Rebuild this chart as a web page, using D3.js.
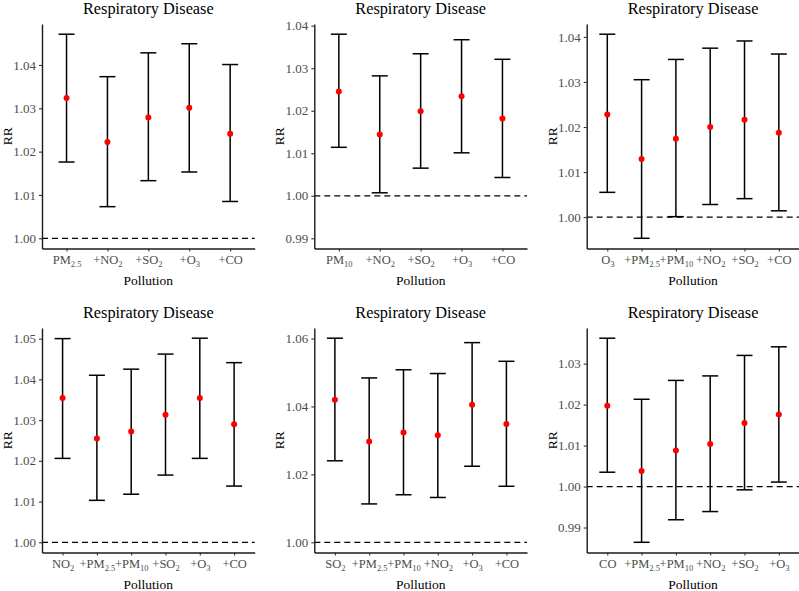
<!DOCTYPE html>
<html>
<head>
<meta charset="utf-8">
<script src="https://cdn.jsdelivr.net/npm/d3@7"></script>
<style>
	body { margin: 0; background: #fff; }
	svg text { font-family: "Liberation Serif", Tinos, "Times New Roman", Times, "DejaVu Serif", serif; }
</style>
</head>
<body>
<svg width="799" height="591"></svg>
<script>
const title = 'Respiratory Disease';
const xTitle = 'Pollution';
const yTitle = 'RR';

// labels use _{..} for subscripts
const p1Labels = ['PM_{2.5}', '+NO_{2}', '+SO_{2}', '+O_{3}', '+CO'];
const p1Est = [1.0324, 1.0222, 1.0279, 1.0301, 1.0241];
const p1Lo = [1.0176, 1.0073, 1.0133, 1.0153, 1.0085];
const p1Hi = [1.0471, 1.0373, 1.0428, 1.0449, 1.0401];

const p2Labels = ['PM_{10}', '+NO_{2}', '+SO_{2}', '+O_{3}', '+CO'];
const p2Est = [1.0245, 1.0144, 1.0199, 1.0234, 1.0182];
const p2Lo = [1.0114, 1.0007, 1.0065, 1.0101, 1.0043];
const p2Hi = [1.0380, 1.0282, 1.0334, 1.0367, 1.0321];

const p3Labels = ['O_{3}', '+PM_{2.5}', '+PM_{10}', '+NO_{2}', '+SO_{2}', '+CO'];
const p3Est = [1.0228, 1.0129, 1.0174, 1.0200, 1.0216, 1.0187];
const p3Lo = [1.0055, 0.9953, 1.0001, 1.0028, 1.0041, 1.0014];
const p3Hi = [1.0406, 1.0305, 1.0350, 1.0375, 1.0391, 1.0362];

const p4Labels = ['NO_{2}', '+PM_{2.5}', '+PM_{10}', '+SO_{2}', '+O_{3}', '+CO'];
const p4Est = [1.0354, 1.0255, 1.0272, 1.0313, 1.0354, 1.0290];
const p4Lo = [1.0206, 1.0103, 1.0118, 1.0165, 1.0206, 1.0138];
const p4Hi = [1.0500, 1.0410, 1.0425, 1.0462, 1.0501, 1.0441];

const p5Labels = ['SO_{2}', '+PM_{2.5}', '+PM_{10}', '+NO_{2}', '+O_{3}', '+CO'];
const p5Est = [1.0420, 1.0297, 1.0323, 1.0315, 1.0405, 1.0348];
const p5Lo = [1.0240, 1.0113, 1.0140, 1.0132, 1.0224, 1.0165];
const p5Hi = [1.0601, 1.0484, 1.0508, 1.0497, 1.0588, 1.0533];

const p6Labels = ['CO', '+PM_{2.5}', '+PM_{10}', '+NO_{2}', '+SO_{2}', '+O_{3}'];
const p6Est = [1.0197, 1.0038, 1.0088, 1.0104, 1.0155, 1.0176];
const p6Lo = [1.0035, 0.9864, 0.9919, 0.9939, 0.9992, 1.0011];
const p6Hi = [1.0362, 1.0213, 1.0259, 1.0270, 1.0320, 1.0341];

const yTicks = [
	[1.00, 1.01, 1.02, 1.03, 1.04],
	[0.99, 1.00, 1.01, 1.02, 1.03, 1.04],
	[1.00, 1.01, 1.02, 1.03, 1.04],
	[1.00, 1.01, 1.02, 1.03, 1.04, 1.05],
	[1.00, 1.02, 1.04, 1.06],
	[0.99, 1.00, 1.01, 1.02, 1.03]
];
// lowest value the y scale must show (reference line, or a forced limit)
const yFloor = [1.00, 0.99, 1.00, 1.00, 1.00, 1.00];
const refLine = 1.00;

const panels = [
	[p1Labels, p1Est, p1Lo, p1Hi],
	[p2Labels, p2Est, p2Lo, p2Hi],
	[p3Labels, p3Est, p3Lo, p3Hi],
	[p4Labels, p4Est, p4Lo, p4Hi],
	[p5Labels, p5Est, p5Lo, p5Hi],
	[p6Labels, p6Est, p6Lo, p6Hi]
];

const colLeft = [42, 314.3, 586.7];
const rowTop = [24, 328];
const plotW = 212.7;
const plotH = 224.5;
const serif = '"Liberation Serif", Tinos, "Times New Roman", Times, "DejaVu Serif", serif';

const svg = d3.select('svg');

// write a label with _{..} parts as subscripts
function richText(sel, s){
	sel.text(null);
	var parts = s.split(/_\{(.*?)\}/);
	parts.forEach(function(p, i){
		if(!p) return;
		if(i%2==1){
			sel.append('tspan').attr('font-size', '8.5px').attr('dy', 3).text(p);
		} else {
			var t = sel.append('tspan').text(p);
			if(i>0) t.attr('dy', -3);
		}
	});
}

function drawPanel(k){
	var [labels, est, lo, hi] = panels[k];
	var left = colLeft[k%3];
	var top = rowTop[Math.floor(k/3)];
	var g = svg.append('g').attr('transform', `translate(${left},${top})`);

	var yMin = Math.min(d3.min(lo), yFloor[k]);
	var yMax = Math.max(d3.max(hi), refLine);
	var pad = (yMax - yMin)*0.05;

	var x = d3.scalePoint().domain(labels).range([0, plotW]).padding(0.6);
	var y = d3.scaleLinear().domain([yMin - pad, yMax + pad]).range([plotH, 0]);

	// reference line
	g.append('line')
	.attr('x1', 0).attr('x2', plotW)
	.attr('y1', y(refLine)).attr('y2', y(refLine))
	.attr('stroke', '#000').attr('stroke-width', 1.3)
	.attr('stroke-dasharray', '6,4');

	var rows = labels.map((l, i) => ({l: l, est: est[i], lo: lo[i], hi: hi[i]}));
	var bars = g.selectAll('g.bar').data(rows).enter().append('g')
	.classed('bar', true)
	.attr('stroke', '#000').attr('stroke-width', 1.5);
	bars.append('line')
	.attr('x1', d => x(d.l)).attr('x2', d => x(d.l))
	.attr('y1', d => y(d.lo)).attr('y2', d => y(d.hi));
	bars.append('line')
	.attr('x1', d => x(d.l)-8).attr('x2', d => x(d.l)+8)
	.attr('y1', d => y(d.hi)).attr('y2', d => y(d.hi));
	bars.append('line')
	.attr('x1', d => x(d.l)-8).attr('x2', d => x(d.l)+8)
	.attr('y1', d => y(d.lo)).attr('y2', d => y(d.lo));

	g.selectAll('circle.pt').data(rows).enter().append('circle')
	.classed('pt', true)
	.attr('cx', d => x(d.l)).attr('cy', d => y(d.est))
	.attr('r', 3).attr('fill', '#ff0000');

	// axes
	var ya = g.append('g')
	.call(d3.axisLeft(y).tickValues(yTicks[k]).tickFormat(d3.format('.2f')).tickSize(3).tickPadding(3).tickSizeOuter(0));
	var xa = g.append('g').attr('transform', `translate(0,${plotH})`)
	.call(d3.axisBottom(x).tickSize(3).tickPadding(4).tickSizeOuter(0));
	[ya, xa].forEach(function(a){
		a.attr('font-family', serif);
		a.select('.domain').attr('stroke', '#1a1a1a').attr('stroke-width', 1.4);
		a.selectAll('.tick line').attr('stroke', '#333').attr('stroke-width', 1.1);
		a.selectAll('.tick text').attr('fill', '#4d4d4d').attr('font-size', '13px');
	});
	xa.selectAll('.tick text').attr('font-size', '12.5px')
	.each(function(d){ richText(d3.select(this), d); });

	g.append('text')
	.attr('x', plotW/2).attr('y', -10)
	.attr('text-anchor', 'middle').attr('font-size', '16.3px').attr('fill', '#000')
	.text(title);
	g.append('text')
	.attr('x', plotW/2).attr('y', plotH + 36)
	.attr('text-anchor', 'middle').attr('font-size', '13.5px').attr('fill', '#000')
	.text(xTitle);
	g.append('text')
	.attr('transform', `translate(-30,${plotH/2}) rotate(-90)`)
	.attr('text-anchor', 'middle').attr('font-size', '13.5px').attr('fill', '#000')
	.text(yTitle);
}

for(var k=0; k<panels.length; k++){
	drawPanel(k);
}
</script>
</body>
</html>
